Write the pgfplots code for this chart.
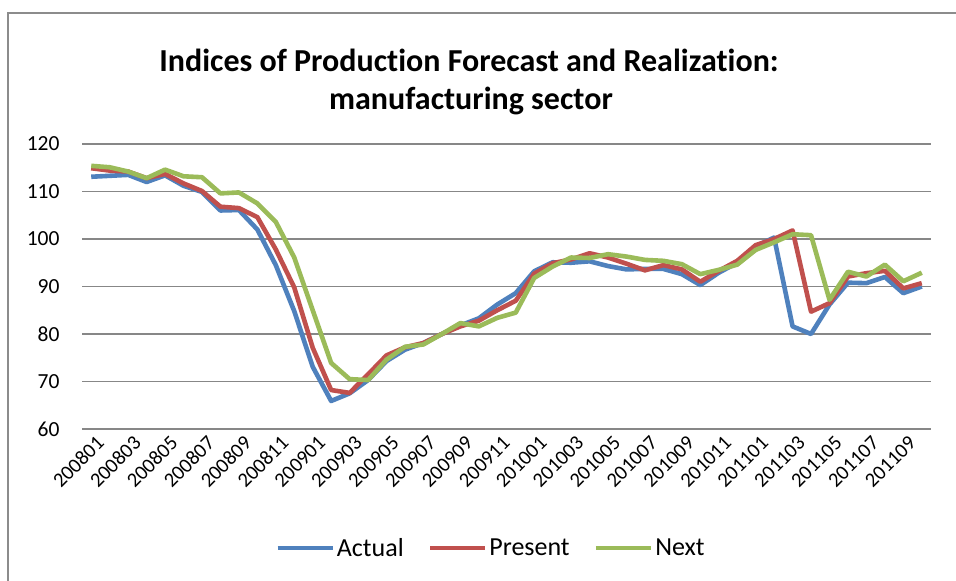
\documentclass[border=0pt]{standalone}
\usepackage{pgfplots}
\pgfplotsset{compat=1.18}
\usepackage{fontspec}
\setmainfont{Carlito}[Ligatures=NoCommon]
\definecolor{sBlue}{HTML}{4F81BD}
\definecolor{sRed}{HTML}{C0504D}
\definecolor{sGreen}{HTML}{9BBB59}
\definecolor{gridgray}{HTML}{878787}
\definecolor{framegray}{HTML}{8C8C8C}
\begin{document}
\begin{tikzpicture}[x=1bp,y=1bp]
\useasboundingbox (0,0) rectangle (956,581);
\fill[white] (0,0) rectangle (956,581);
\draw[framegray, line width=1.5bp] (8,0) -- (8,568) -- (956,568);
\node[anchor=base, font=\bfseries\fontsize{32bp}{38bp}\selectfont] at (469,509) {Indices of Production Forecast and Realization:};
\node[anchor=base, font=\bfseries\fontsize{32bp}{38bp}\selectfont] at (471,471) {manufacturing sector};
\begin{axis}[
  at={(82bp,152bp)}, anchor=south west,
  scale only axis, width=849bp, height=285bp,
  xmin=-0.5, xmax=45.5, ymin=60, ymax=120,
  ytick={60,70,...,120},
  xtick={0,2,...,44},
  xticklabels={200801,200803,200805,200807,200809,200811,200901,200903,200905,200907,200909,200911,201001,201003,201005,201007,201009,201011,201101,201103,201105,201107,201109},
  axis line style={draw=none},
  major tick style={draw=none},
  ymajorgrids, major grid style={gridgray, line width=1.8bp},
  /pgf/number format/assume math mode=true,
  tick label style={font=\fontsize{21.5bp}{25bp}\selectfont},
  xticklabel style={font=\fontsize{20.5bp}{24bp}\selectfont},
  yticklabel style={xshift=-19bp},
  xticklabel style={rotate=45, anchor=east, inner sep=1bp, xshift=0bp, yshift=-14bp},
  legend columns=3,
  legend style={at={(0.4817,-0.4175)}, anchor=center, draw=none, fill=none,
    font=\fontsize{26bp}{30bp}\selectfont,
    /tikz/every even column/.append style={column sep=22bp},
    nodes={inner sep=2bp}},
  legend image code/.code={\draw[#1] (0bp,0bp) -- (55bp,0bp);},
  every axis plot/.append style={line width=4.6bp, line join=round, no markers},
]
\addplot[sBlue] coordinates {
(0,113.1)(1,113.3)(2,113.5)(3,112.0)(4,113.4)(5,111.2)(6,109.9)(7,106.0)(8,106.1)(9,102.0)
(10,94.5)(11,84.8)(12,73.1)(13,65.9)(14,67.5)(15,70.3)(16,74.3)(17,76.7)(18,78.1)(19,80.0)
(20,81.8)(21,83.3)(22,86.2)(23,88.6)(24,93.2)(25,95.1)(26,95.0)(27,95.3)(28,94.3)(29,93.6)
(30,93.7)(31,93.7)(32,92.6)(33,90.3)(34,92.9)(35,95.0)(36,98.5)(37,100.3)(38,81.6)(39,80.0)
(40,86.2)(41,90.8)(42,90.7)(43,92.0)(44,88.6)(45,90.0)};
\addlegendentry{Actual}
\addplot[sRed] coordinates {
(0,114.9)(1,114.4)(2,114.2)(3,112.8)(4,113.7)(5,111.7)(6,110.1)(7,106.8)(8,106.5)(9,104.6)
(10,97.8)(11,89.8)(12,77.1)(13,68.2)(14,67.6)(15,71.5)(16,75.5)(17,77.2)(18,78.1)(19,80.0)
(20,81.6)(21,82.8)(22,85.0)(23,87.0)(24,92.7)(25,94.9)(26,95.7)(27,97.0)(28,96.1)(29,94.8)
(30,93.4)(31,94.5)(32,93.6)(33,91.0)(34,93.3)(35,95.4)(36,98.7)(37,100.0)(38,101.8)(39,84.7)
(40,86.5)(41,92.1)(42,92.8)(43,93.3)(44,89.6)(45,90.7)};
\addlegendentry{Present}
\addplot[sGreen] coordinates {
(0,115.4)(1,115.1)(2,114.2)(3,112.8)(4,114.6)(5,113.2)(6,113.0)(7,109.6)(8,109.8)(9,107.5)
(10,103.6)(11,96.1)(12,85.0)(13,73.9)(14,70.5)(15,70.3)(16,74.6)(17,77.3)(18,77.8)(19,80.0)
(20,82.3)(21,81.6)(22,83.4)(23,84.5)(24,91.8)(25,94.2)(26,96.1)(27,96.0)(28,96.8)(29,96.3)
(30,95.6)(31,95.4)(32,94.7)(33,92.6)(34,93.5)(35,94.6)(36,97.7)(37,99.3)(38,101.0)(39,100.8)
(40,87.2)(41,93.1)(42,92.1)(43,94.6)(44,91.1)(45,92.9)};
\addlegendentry{Next}
\end{axis}
\end{tikzpicture}
\end{document}
